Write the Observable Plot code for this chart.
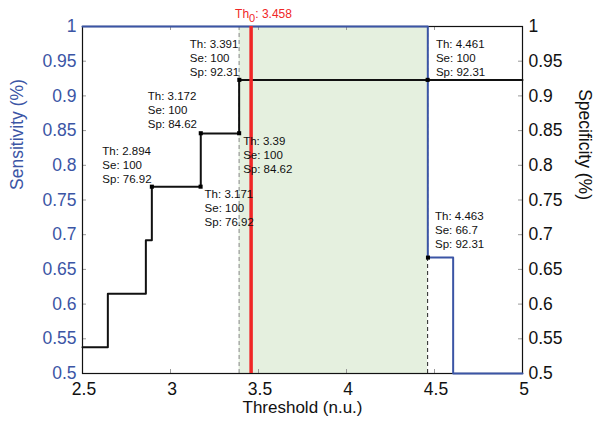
<!DOCTYPE html>
<html>
<head>
<meta charset="utf-8">
<script src="https://cdn.jsdelivr.net/npm/d3@7"></script>
<script src="https://cdn.jsdelivr.net/npm/@observablehq/plot@0.6"></script>
<style>
  html, body { margin: 0; padding: 0; background: #fff; }
  #chart { width: 596px; height: 423px; }
</style>
</head>
<body>
<div id="chart"></div>
<script>
// ---- data ----
const xDomain = [2.5, 5];
const yDomain = [0.5, 1];
const xTicks = [2.5, 3, 3.5, 4, 4.5, 5];
const yTicks = [0.5, 0.55, 0.6, 0.65, 0.7, 0.75, 0.8, 0.85, 0.9, 0.95, 1];

// specificity step curve (step-after)
const specX = [2.5, 2.644, 2.86, 2.894, 3.172, 3.39, 5];
const specY = [0.538, 0.615, 0.692, 0.769, 0.846, 0.923, 0.923];

// sensitivity step curve (step-after)
const sensX = [2.5, 4.462, 4.606, 5];
const sensY = [1, 0.667, 0.5, 0.5];

// optimal range and threshold
const optimalRange = [3.39, 4.461];
const th0 = 3.458;

// annotated points
const annTh = [2.894, 3.171, 3.172, 3.39, 3.391, 4.461, 4.463];
const annSe = [100, 100, 100, 100, 100, 100, 66.7];
const annSp = [76.92, 76.92, 84.62, 84.62, 92.31, 92.31, 92.31];
const annCurve = ["Sp", "Sp", "Sp", "Sp", "Sp", "Sp", "Se"];

// ---- styles ----
const W = 596, H = 423;
const mL = 82, mR = 74, mT = 26, mB = 50;
const plotW = W - mL - mR, plotH = H - mT - mB;
const BLUE = "#3b55a5";
const RED = "#f02626";
const GREEN = "#e5f0df";
const FONT = "'Liberation Sans', Arial, Helvetica, sans-serif";
const labelOffsets = [
  [-49.5, -22.5], [4, 21], [-53, -23.5], [4, 21.3], [-49.5, -22.7], [8.3, -22.7], [7, -28]
];

const specData = specX.map((x, i) => ({x, y: specY[i]}));
const sensData = sensX.map((x, i) => ({x, y: sensY[i]}));
const ann = annTh.map((th, i) => ({
  th, se: annSe[i], sp: annSp[i],
  y: annCurve[i] === "Se" ? annSe[i] / 100 : annSp[i] / 100,
  label: `Th: ${th}\nSe: ${annSe[i]}\nSp: ${annSp[i]}`
}));
const fmt = d => String(+d.toFixed(2));

const labelMarks = ann.map((d, i) => Plot.text([d], {
  x: "th", y: "y", text: "label",
  textAnchor: "start", lineAnchor: "middle", lineHeight: 1.22,
  dx: labelOffsets[i][0], dy: labelOffsets[i][1],
  fontSize: 11.5, fill: "#111"
}));

const chart = Plot.plot({
  width: W, height: H,
  marginLeft: mL, marginRight: mR, marginTop: mT, marginBottom: mB,
  style: {fontFamily: FONT, background: "white", overflow: "visible"},
  x: {domain: xDomain, axis: null},
  y: {domain: yDomain, axis: null},
  marks: [
    Plot.rect([optimalRange], {x1: d => d[0], x2: d => d[1], y1: yDomain[0], y2: yDomain[1], fill: GREEN}),
    Plot.ruleX([optimalRange[0]], {stroke: "#9a9a9a", strokeWidth: 1.2, strokeDasharray: "4,3"}),
    Plot.ruleX([optimalRange[1]], {stroke: "#222", strokeWidth: 1, strokeDasharray: "4,3"}),
    // inward ticks
    Plot.tickX(xTicks, {x: d => d, insetTop: plotH - 4, stroke: "#999"}),
    Plot.tickX(xTicks, {x: d => d, insetBottom: plotH - 4, stroke: "#999"}),
    Plot.tickY(yTicks, {y: d => d, insetRight: plotW - 4, stroke: "#999"}),
    Plot.tickY(yTicks, {y: d => d, insetLeft: plotW - 4, stroke: "#999"}),
    Plot.frame({stroke: "#111", strokeWidth: 1.2}),
    Plot.line(specData, {x: "x", y: "y", curve: "step-after", stroke: "#111", strokeWidth: 2}),
    Plot.line(sensData, {x: "x", y: "y", curve: "step-after", stroke: BLUE, strokeWidth: 2}),
    Plot.ruleX([th0], {stroke: RED, strokeWidth: 3.5}),
    Plot.dot(ann, {x: "th", y: "y", symbol: "square", r: 2.3, fill: "#000", stroke: null}),
    ...labelMarks,
    // axes
    Plot.axisX({ticks: xTicks, tickSize: 0, tickPadding: 9, tickFormat: fmt, fontSize: 17.5, fill: "#111", dx: 1.5, label: null}),
    Plot.axisY({anchor: "left", ticks: yTicks, tickSize: 0, tickPadding: 6, tickFormat: fmt, fontSize: 17.5, fill: BLUE, label: null}),
    Plot.axisY({anchor: "right", ticks: yTicks, tickSize: 0, tickPadding: 6, tickFormat: fmt, fontSize: 17.5, fill: "#111", label: null}),
    Plot.text(["Threshold (n.u.)"], {frameAnchor: "bottom", dy: 39, fontSize: 17, fill: "#111"}),
    Plot.text(["Sensitivity (%)"], {frameAnchor: "left", rotate: -90, dx: -65, dy: -10, fontSize: 17.5, fill: BLUE}),
    Plot.text(["Specificity (%)"], {frameAnchor: "right", rotate: 90, dx: 62, dy: 0, fontSize: 17.5, fill: "#111"}),
    Plot.text([th0], {x: d => d, frameAnchor: "top", text: d => `Th0: ${d}`, textAnchor: "start", lineAnchor: "bottom",
      dx: -16, dy: -9, fontSize: 12, fill: RED})
  ]
});

// subscript for Th0 label
const ns = "http://www.w3.org/2000/svg";
for (const t of chart.querySelectorAll("text")) {
  if (t.textContent === `Th0: ${th0}`) {
    t.textContent = "";
    const a = document.createElementNS(ns, "tspan"); a.textContent = "Th";
    const b = document.createElementNS(ns, "tspan"); b.textContent = "0"; b.setAttribute("dy", "4"); b.setAttribute("font-size", "11");
    const c = document.createElementNS(ns, "tspan"); c.textContent = `: ${th0}`; c.setAttribute("dy", "-4");
    t.append(a, b, c);
  }
}

document.getElementById("chart").appendChild(chart);
</script>
</body>
</html>
